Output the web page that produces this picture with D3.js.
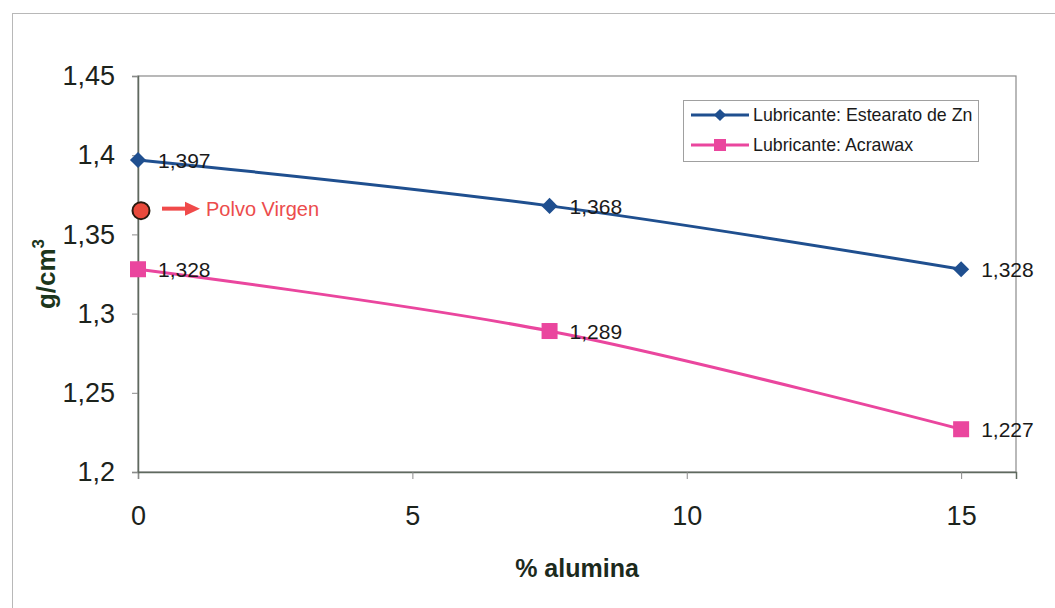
<!DOCTYPE html>
<html>
<head>
<meta charset="utf-8">
<script src="https://cdn.jsdelivr.net/npm/d3@7"></script>
<style>
  html, body { margin: 0; padding: 0; background: #fff; }
  svg { display: block; font-family: "Liberation Sans", Arial, sans-serif; }
</style>
</head>
<body>
<svg id="chart" width="1055" height="608"></svg>
<script>
// ---- Data ----
const xValues = [0, 7.5, 15];
const zincStearate = [1.397, 1.368, 1.328];
const acrawax = [1.328, 1.289, 1.227];
const seriesNames = ["Lubricante: Estearato de Zn", "Lubricante: Acrawax"];
const virginPowder = { x: 0, y: 1.365, label: "Polvo Virgen" };
const xTicks = [0, 5, 10, 15];
const yTicks = [1.2, 1.25, 1.3, 1.35, 1.4, 1.45];
const xTitle = "% alumina";
const yTitle = "g/cm";

// ---- Layout ----
const W = 1055, H = 608;
const margin = { left: 138, top: 76, right: 39, bottom: 136 };
const iw = W - margin.left - margin.right;
const ih = H - margin.top - margin.bottom;

const svg = d3.select("#chart");
const locale = d3.formatLocale({ decimal: ",", thousands: ".", grouping: [3], currency: ["", ""] });
const fmtTick = v => locale.format("~g")(v);
const fmtLabel = locale.format(".3f");

const x = d3.scaleLinear().domain([0, 16]).range([margin.left, margin.left + iw]);
const y = d3.scaleLinear().domain([1.2, 1.45]).range([margin.top + ih, margin.top]);

// outer chart border
svg.append("rect").attr("x", 12.5).attr("y", 13.5).attr("width", W + 20).attr("height", H + 20)
  .attr("fill", "none").attr("stroke", "#b8b8b8").attr("stroke-width", 1);

// plot area border
svg.append("rect").attr("x", margin.left).attr("y", margin.top).attr("width", iw).attr("height", ih)
  .attr("fill", "#fff").attr("stroke", "#8a8a8a").attr("stroke-width", 1.2);

// axes
const xAxis = d3.axisBottom(x).tickValues(xTicks).tickSize(7).tickPadding(27).tickFormat(d3.format("d"));
const gx = svg.append("g").attr("transform", `translate(0,${margin.top + ih})`).call(xAxis);
gx.select(".domain").attr("stroke", "#5f6a5f").attr("stroke-width", 1.5);
gx.selectAll(".tick line").attr("stroke", "#8a8a8a");
gx.selectAll(".tick text").attr("font-size", 27).attr("fill", "#1c231c")
  .attr("font-family", "Liberation Sans, Arial, sans-serif");

const yAxis = d3.axisLeft(y).tickValues(yTicks).tickSize(6).tickPadding(17).tickFormat(fmtTick);
const gy = svg.append("g").attr("transform", `translate(${margin.left},0)`).call(yAxis);
gy.select(".domain").attr("stroke", "#5f6a5f").attr("stroke-width", 1.5);
gy.selectAll(".tick line").attr("stroke", "#8a8a8a");
gy.selectAll(".tick text").attr("font-size", 27).attr("fill", "#1c231c")
  .attr("font-family", "Liberation Sans, Arial, sans-serif");

// axis titles
svg.append("text").attr("x", x(8)).attr("y", 577).attr("text-anchor", "middle")
  .attr("font-size", 25).attr("font-weight", "bold").attr("fill", "#1c2a1c").text(xTitle);

const yt = svg.append("text").attr("transform", `translate(55,${margin.top + ih / 2}) rotate(-90)`)
  .attr("text-anchor", "middle").attr("font-size", 26).attr("font-weight", "bold").attr("fill", "#1c361c");
yt.append("tspan").text(yTitle);
yt.append("tspan").attr("font-size", 17).attr("dy", -11).text("3");

// series
const series = [
  { name: seriesNames[0], values: zincStearate, color: "#1f4f8f", marker: "diamond" },
  { name: seriesNames[1], values: acrawax, color: "#ea469e", marker: "square" }
];
const line = d3.line().x(d => x(d[0])).y(d => y(d[1])).curve(d3.curveCardinal.tension(0));

function drawMarker(g, type, cx, cy, color) {
  if (type === "diamond") {
    g.append("path").attr("d", d3.symbol(d3.symbolDiamond2, 165)())
      .attr("transform", `translate(${cx},${cy})`).attr("fill", color);
  } else {
    g.append("rect").attr("x", cx - 8).attr("y", cy - 8).attr("width", 16).attr("height", 16).attr("fill", color);
  }
}

series.forEach(s => {
  const pts = xValues.map((xv, i) => [xv, s.values[i]]);
  svg.append("path").attr("d", line(pts)).attr("fill", "none").attr("stroke", s.color).attr("stroke-width", 3);
  const g = svg.append("g");
  pts.forEach(p => drawMarker(g, s.marker, x(p[0]), y(p[1]), s.color));
  pts.forEach(p => {
    svg.append("text").attr("x", x(p[0]) + 20).attr("y", y(p[1]) + 8)
      .attr("font-size", 21).attr("fill", "#1a1a1a").text(fmtLabel(p[1]));
  });
});

// Polvo Virgen point + arrow + label
const vx = x(virginPowder.x) + 3, vy = y(virginPowder.y);
svg.append("circle").attr("cx", vx).attr("cy", vy).attr("r", 8.5)
  .attr("fill", "#ea4a3c").attr("stroke", "#2a1a10").attr("stroke-width", 2);
svg.append("line").attr("x1", vx + 21).attr("x2", vx + 46).attr("y1", vy - 2).attr("y2", vy - 2)
  .attr("stroke", "#f04a4a").attr("stroke-width", 4);
svg.append("path").attr("d", `M${vx + 44},${vy - 9} L${vx + 59},${vy - 2} L${vx + 44},${vy + 5} Z`).attr("fill", "#f04a4a");
svg.append("text").attr("x", vx + 65).attr("y", vy + 5).attr("font-size", 20)
  .attr("fill", "#ec4c4c").text(virginPowder.label);

// legend
const lg = svg.append("g").attr("transform", "translate(683,100)");
lg.append("rect").attr("x", 0.5).attr("y", 0.5).attr("width", 295).attr("height", 61)
  .attr("fill", "#fff").attr("stroke", "#a0a0a0").attr("stroke-width", 1);
series.forEach((s, i) => {
  const cy = 15 + i * 30;
  lg.append("line").attr("x1", 8).attr("x2", 66).attr("y1", cy).attr("y2", cy)
    .attr("stroke", s.color).attr("stroke-width", 3);
  if (s.marker === "diamond") {
    lg.append("path").attr("d", d3.symbol(d3.symbolDiamond2, 95)())
      .attr("transform", `translate(37,${cy})`).attr("fill", s.color);
  } else {
    lg.append("rect").attr("x", 31).attr("y", cy - 6).attr("width", 12).attr("height", 12).attr("fill", s.color);
  }
  lg.append("text").attr("x", 70).attr("y", cy + 6).attr("font-size", 17.8).attr("fill", "#1a1a1a").text(s.name);
});
</script>
</body>
</html>
